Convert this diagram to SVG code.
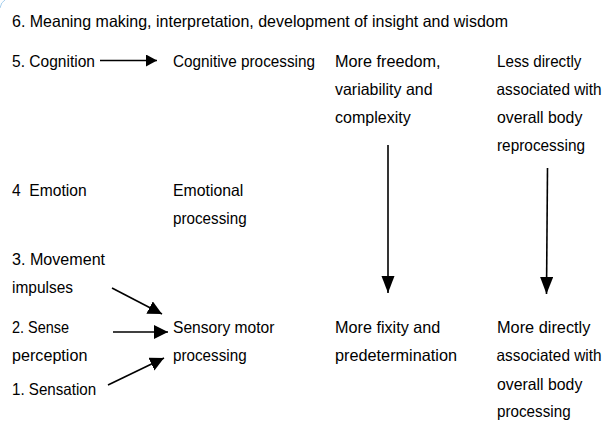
<svg xmlns="http://www.w3.org/2000/svg" width="608" height="421" viewBox="0 0 608 421">
<style>
text{font-family:"Liberation Sans",Arial,sans-serif;font-size:16.5px;fill:#000;white-space:pre}
.ln{stroke:#000;stroke-width:1.6;fill:none}
</style>
<defs>
<marker id="big" markerUnits="userSpaceOnUse" markerWidth="15" markerHeight="15" refX="14" refY="7" orient="auto"><path d="M0,0 L14,7 L0,14 z" fill="#000"/></marker>
<marker id="sm" markerUnits="userSpaceOnUse" markerWidth="12" markerHeight="13" refX="11" refY="6" orient="auto"><path d="M0,0 L11,6 L0,12 z" fill="#000"/></marker>
<marker id="vt" markerUnits="userSpaceOnUse" markerWidth="18" markerHeight="14" refX="17" refY="6.5" orient="auto"><path d="M0,0 L17,6.5 L0,13 z" fill="#000"/></marker>
</defs>
<rect width="608" height="421" fill="#fff"/>
<path d="M0,8 Q1,2 5,0" stroke="#a8d0ee" stroke-width="1" fill="none"/>
<g id="row6"><text x="12" y="27" textLength="496" lengthAdjust="spacingAndGlyphs">6. Meaning making, interpretation, development of insight and wisdom</text></g>
<g id="cognition"><text x="12" y="67" textLength="83" lengthAdjust="spacingAndGlyphs">5. Cognition</text></g>
<g id="cognitive-processing"><text x="173" y="67" textLength="142" lengthAdjust="spacingAndGlyphs">Cognitive processing</text></g>
<g id="more-freedom"><text x="335" y="67" textLength="105.5" lengthAdjust="spacingAndGlyphs">More freedom,</text><text x="335" y="95" textLength="97.6" lengthAdjust="spacingAndGlyphs">variability and</text><text x="335" y="123" textLength="75.7" lengthAdjust="spacingAndGlyphs">complexity</text></g>
<g id="less-directly"><text x="497" y="67" textLength="84.4" lengthAdjust="spacingAndGlyphs">Less directly</text><text x="496.5" y="95" textLength="105" lengthAdjust="spacingAndGlyphs">associated with</text><text x="497" y="123" textLength="85.3" lengthAdjust="spacingAndGlyphs">overall body</text><text x="497" y="151" textLength="88" lengthAdjust="spacingAndGlyphs">reprocessing</text></g>
<g id="emotion"><text x="12" y="196" textLength="74.6" lengthAdjust="spacingAndGlyphs">4  Emotion</text></g>
<g id="emotional-processing"><text x="173" y="196" textLength="70.3" lengthAdjust="spacingAndGlyphs">Emotional</text><text x="173" y="224" textLength="73.6" lengthAdjust="spacingAndGlyphs">processing</text></g>
<g id="movement"><text x="12" y="265" textLength="93.1" lengthAdjust="spacingAndGlyphs">3. Movement</text><text x="12" y="293" textLength="61" lengthAdjust="spacingAndGlyphs">impulses</text></g>
<g id="sense"><text x="12" y="333" textLength="57.1" lengthAdjust="spacingAndGlyphs">2. Sense</text><text x="12" y="361" textLength="75.4" lengthAdjust="spacingAndGlyphs">perception</text></g>
<g id="sensation"><text x="12" y="395" textLength="84.2" lengthAdjust="spacingAndGlyphs">1. Sensation</text></g>
<g id="sensory-motor"><text x="173" y="333" textLength="101.4" lengthAdjust="spacingAndGlyphs">Sensory motor</text><text x="173" y="361" textLength="73.6" lengthAdjust="spacingAndGlyphs">processing</text></g>
<g id="more-fixity"><text x="335" y="333" textLength="105.3" lengthAdjust="spacingAndGlyphs">More fixity and</text><text x="335" y="361" textLength="122" lengthAdjust="spacingAndGlyphs">predetermination</text></g>
<g id="more-directly"><text x="497" y="333" textLength="93.4" lengthAdjust="spacingAndGlyphs">More directly</text><text x="496.5" y="361" textLength="105" lengthAdjust="spacingAndGlyphs">associated with</text><text x="497" y="390" textLength="85.3" lengthAdjust="spacingAndGlyphs">overall body</text><text x="497" y="417" textLength="73.6" lengthAdjust="spacingAndGlyphs">processing</text></g>
<g id="connectors">
<line class="ln" x1="100" y1="60.5" x2="157" y2="60.5" marker-end="url(#sm)"/>
<line class="ln" x1="388" y1="145" x2="388" y2="293" marker-end="url(#vt)"/>
<line class="ln" x1="547.5" y1="168" x2="546.5" y2="294" stroke-width="1.2" marker-end="url(#vt)"/>
<line class="ln" x1="112" y1="288" x2="162" y2="314" marker-end="url(#big)"/>
<line class="ln" x1="113" y1="332" x2="168" y2="332" marker-end="url(#big)"/>
<line class="ln" x1="108" y1="385" x2="164" y2="358" marker-end="url(#big)"/>
</g>
</svg>
